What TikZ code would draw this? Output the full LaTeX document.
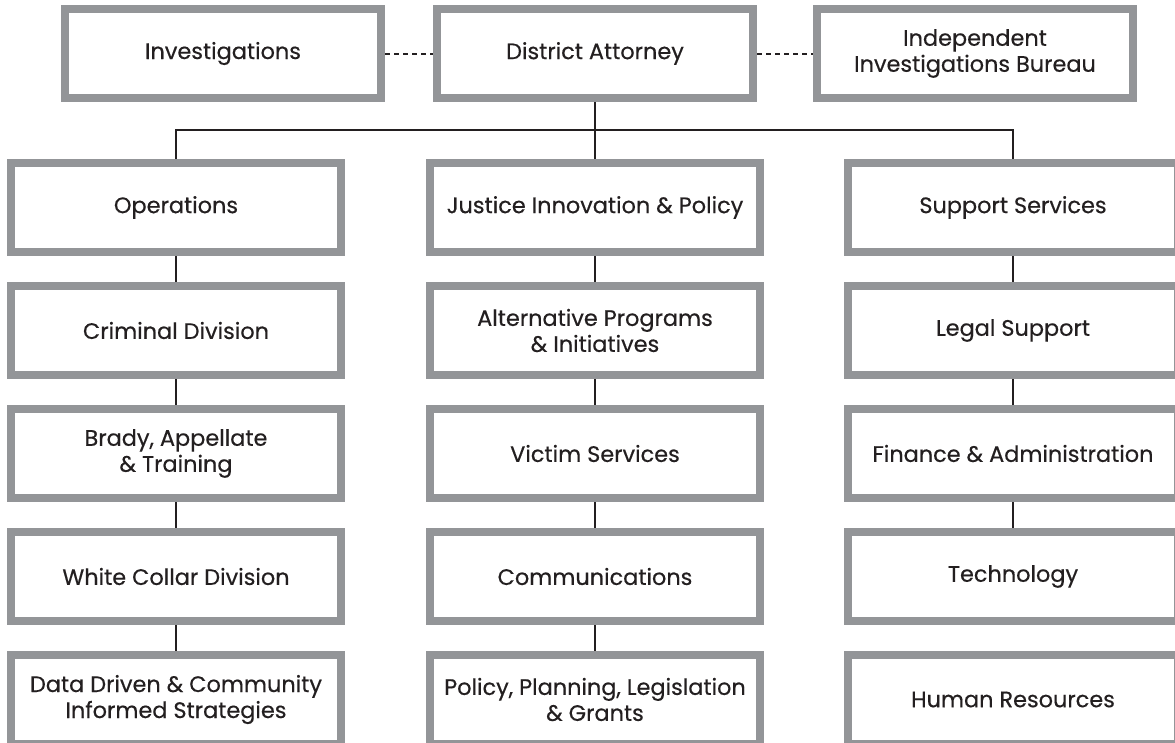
\documentclass[tikz,border=0pt]{standalone}
\usepackage{fontspec}
\setmainfont{Poppins}[FakeBold=0.4]
\usepackage{tikz}
\usetikzlibrary{positioning}
\definecolor{boxgray}{RGB}{147,149,152}
\definecolor{inkblack}{RGB}{35,31,32}

\begin{document}
\begin{tikzpicture}[x=1pt,y=-1pt,line width=2pt,node distance=26pt and 80pt,font=\fontsize{22.4}{26}\selectfont]
\tikzstyle{orgbox}=[draw=boxgray,line width=8pt,fill=white,minimum width=330pt,minimum height=89pt,align=center,text=inkblack]
\tikzstyle{topbox}=[orgbox,minimum width=316pt]
\tikzstyle{link}=[draw=inkblack,line width=2pt]
\useasboundingbox (0,0) rectangle (1175,742);
\node[topbox] (da) at (595,53.5) {District Attorney};
\node[topbox,left=48pt of da] (inv) {Investigations};
\node[topbox,right=56pt of da] (iib) {Independent\\Investigations Bureau};
\node[orgbox,below=57pt of da] (jip) {Justice Innovation \& Policy};
\node[orgbox,left=81pt of jip] (ops) {Operations};
\node[orgbox,right=80pt of jip] (sup) {Support Services};
\node[orgbox,below=of ops] (crim) {Criminal Division};
\node[orgbox,below=of crim] (brady) {Brady, Appellate\\\& Training};
\node[orgbox,below=of brady] (white) {White Collar Division};
\node[orgbox,below=of white] (data) {Data Driven \& Community\\Informed Strategies};
\node[orgbox,below=of jip] (alt) {Alternative Programs\\\& Initiatives};
\node[orgbox,below=of alt] (victim) {Victim Services};
\node[orgbox,below=of victim] (comm) {Communications};
\node[orgbox,below=of comm] (policy) {Policy, Planning, Legislation\\\& Grants};
\node[orgbox,below=of sup] (legal) {Legal Support};
\node[orgbox,below=of legal] (fin) {Finance \& Administration};
\node[orgbox,below=of fin] (tech) {Technology};
\node[orgbox,below=of tech] (hr) {Human Resources};
\coordinate[below=28pt of da] (bus);
\draw[link,dash pattern=on 5pt off 4pt] (inv) -- (da);
\draw[link,dash pattern=on 5pt off 4pt] (da) -- (iib);
\draw[link] (da) -- (jip);
\draw[link] (ops) |- (bus) -| (sup);
\draw[link] (ops) -- (crim);
\draw[link] (crim) -- (brady);
\draw[link] (brady) -- (white);
\draw[link] (white) -- (data);
\draw[link] (jip) -- (alt);
\draw[link] (alt) -- (victim);
\draw[link] (victim) -- (comm);
\draw[link] (comm) -- (policy);
\draw[link] (sup) -- (legal);
\draw[link] (legal) -- (fin);
\draw[link] (fin) -- (tech);
\end{tikzpicture}
\end{document}
